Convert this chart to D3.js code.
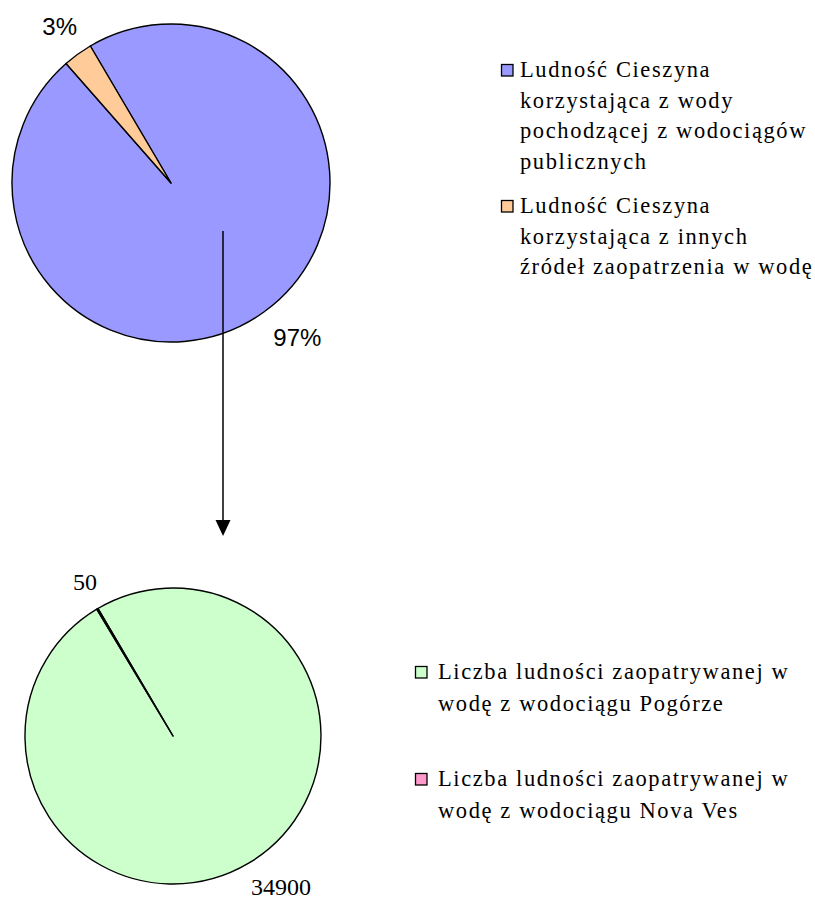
<!DOCTYPE html>
<html>
<head>
<meta charset="utf-8">
<script src="https://cdn.jsdelivr.net/npm/d3@7"></script>
<style>
  body { margin: 0; background: #fff; }
  svg { display: block; }
  .serif { font-family: "Liberation Serif", "DejaVu Serif", "Times New Roman", serif; }
  .sans { font-family: "Liberation Sans", Arial, "DejaVu Sans", sans-serif; }
</style>
</head>
<body>
<svg id="chart" width="815" height="900"></svg>
<script>
// top pie: share of Cieszyn population by water source (%)
var topKeys = ["publiczne", "inne"];
var topValues = [97, 3];
var topLabels = ["97%", "3%"];
var topColors = ["#9999FF", "#FFCC99"];
var topLegend = [
  ["Ludność Cieszyna", "korzystająca z wody", "pochodzącej z wodociągów", "publicznych"],
  ["Ludność Cieszyna", "korzystająca z innych", "źródeł zaopatrzenia w wodę"]
];

// bottom pie: population supplied by each waterworks
var botKeys = ["Pogórze", "Nova Ves"];
var botValues = [34900, 50];
var botLabels = ["34900", "50"];
var botColors = ["#CCFFCC", "#FF99CC"];
var botLegend = [
  ["Liczba ludności zaopatrywanej w", "wodę z wodociągu Pogórze"],
  ["Liczba ludności zaopatrywanej w", "wodę z wodociągu Nova Ves"]
];

var svg = d3.select("#chart");
var startAngle = -30.5 * Math.PI / 180;

function drawPie(opts) {
  var g = svg.append("g")
    .attr("transform", "translate(" + opts.cx + "," + opts.cy + ")");

  var pie = d3.pie()
    .sort(null)
    .value(function (d) { return d; })
    .startAngle(startAngle)
    .endAngle(startAngle + 2 * Math.PI);

  var arc = d3.arc().innerRadius(0).outerRadius(opts.r);
  var color = d3.scaleOrdinal().domain(opts.keys).range(opts.colors);
  var arcs = pie(opts.values);

  g.selectAll("path")
    .data(arcs)
    .enter()
    .append("path")
    .attr("d", arc)
    .attr("fill", function (d, i) { return color(opts.keys[i]); })
    .attr("stroke", "#000")
    .attr("stroke-width", 1.4)
    .attr("stroke-linejoin", "round");

  // labels sit just outside the slice, pushed out by half their box
  var labels = g.selectAll("text.lbl")
    .data(arcs)
    .enter()
    .append("text")
    .attr("class", "lbl " + opts.labelClass)
    .attr("font-size", opts.labelSize)
    .attr("text-anchor", "middle")
    .attr("dominant-baseline", "central")
    .attr("fill", "#000")
    .text(function (d, i) { return opts.labels[i]; });

  labels.each(function (d, i) {
    var a = (d.startAngle + d.endAngle) / 2 - opts.labelTurn[i];
    var bb = this.getBBox();
    var rr = opts.r + opts.labelGap[i];
    var x = Math.sin(a) * rr + Math.sin(a) * bb.width / 2;
    var y = -Math.cos(a) * rr - Math.cos(a) * bb.height * 0.45;
    d3.select(this).attr("x", x).attr("y", y);
  });
}

function drawLegend(opts) {
  var g = svg.append("g")
    .attr("class", "serif")
    .attr("transform", "translate(" + opts.x + "," + opts.y + ")")
    .attr("font-size", opts.size)
    .attr("letter-spacing", opts.spacing);

  var y0 = 0;
  opts.items.forEach(function (lines, i) {
    var item = g.append("g").attr("transform", "translate(0," + y0 + ")");
    item.append("rect")
      .attr("x", 0.5)
      .attr("y", -12.5)
      .attr("width", 11.5)
      .attr("height", 11.5)
      .attr("fill", opts.colors[i])
      .attr("stroke", "#000")
      .attr("stroke-width", 1.3);
    item.selectAll("text")
      .data(lines)
      .enter()
      .append("text")
      .attr("x", opts.textX)
      .attr("y", function (d, j) { return j * opts.lineH; })
      .attr("fill", "#000")
      .text(function (d) { return d; });
    y0 += lines.length * opts.lineH + opts.gap;
  });
}

drawPie({
  cx: 171, cy: 183, r: 159,
  keys: topKeys, values: topValues, labels: topLabels, colors: topColors,
  labelClass: "sans", labelSize: 24, labelGap: [24, 19], labelTurn: [0.03, -0.02]
});

drawPie({
  cx: 173, cy: 736, r: 148,
  keys: botKeys, values: botValues, labels: botLabels, colors: botColors,
  labelClass: "serif", labelSize: 24, labelGap: [20, 18], labelTurn: [0.04, -0.02]
});

drawLegend({ x: 501, y: 77, textX: 19, size: 22.5, spacing: 1.6, lineH: 30.5, gap: 14, items: topLegend, colors: topColors });
drawLegend({ x: 415, y: 679, textX: 23, size: 22.5, spacing: 1.6, lineH: 32, gap: 43, items: botLegend, colors: botColors });

// arrow linking the public-supply slice to the breakdown below
svg.append("line")
  .attr("x1", 223).attr("y1", 231)
  .attr("x2", 223).attr("y2", 520)
  .attr("stroke", "#000")
  .attr("stroke-width", 1.5);

svg.append("path")
  .attr("d", "M215.5,520 L230.5,520 L223,536 Z")
  .attr("fill", "#000");
</script>
</body>
</html>
